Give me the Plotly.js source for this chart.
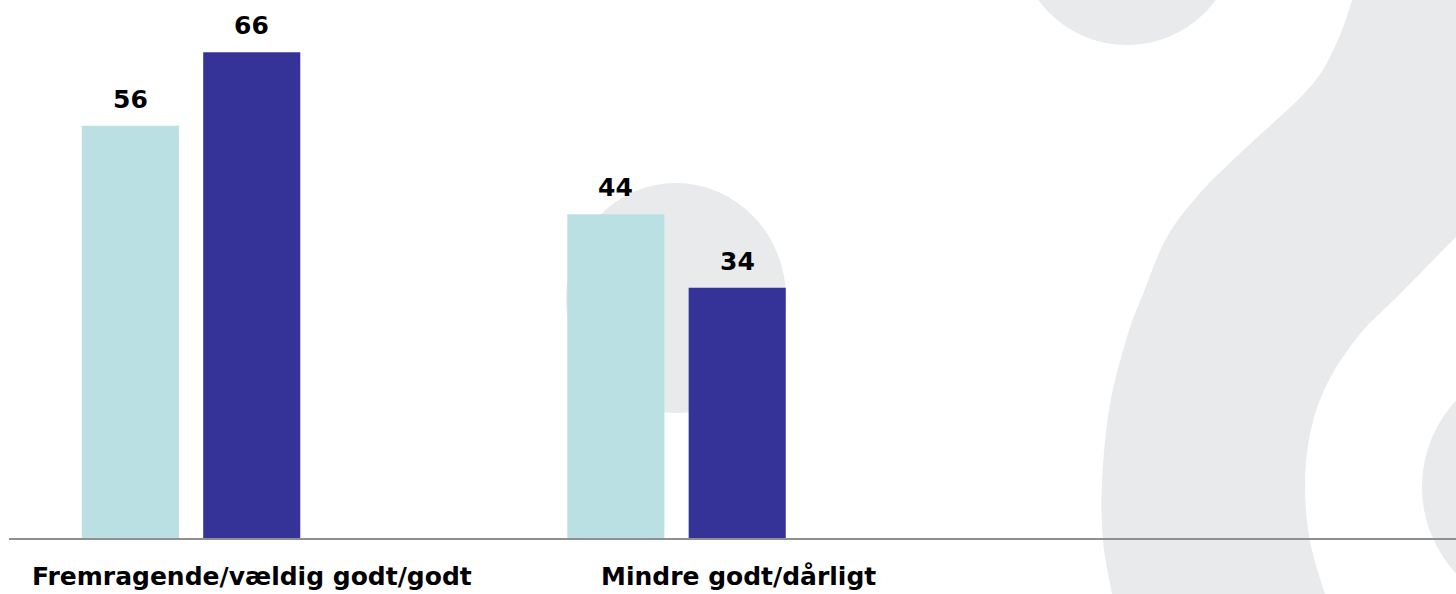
<!DOCTYPE html>
<html>
<head>
<meta charset="utf-8">
<script src="https://cdn.plot.ly/plotly-3.0.1.min.js"></script>
<style>
  html, body { margin: 0; padding: 0; background: #ffffff; }
  #chart { width: 1456px; height: 594px; }
</style>
</head>
<body>
<div id="chart"></div>
<script>
// ---- data ----
const categories = ["Fremragende/vældig godt/godt", "Mindre godt/dårligt"];
const seriesA = [56, 44];   // light teal
const seriesB = [66, 34];   // dark blue
const seriesNames = ["A", "B"];

// ---- layout constants ----
const W = 1456, H = 594;
const M = { l: 9, r: 0, t: 0, b: 56 };
const plotW = W - M.l - M.r, plotH = H - M.t - M.b;
const xRange = [-0.375, 2.6056];
const yRange = [0, 73.1];
const bargap = 0.5;
const pxPerCat = plotW / (xRange[1] - xRange[0]);
const barOffset = (1 - bargap) * pxPerCat / 4;

const boldFont = { family: "'DejaVu Sans', sans-serif", size: 25, color: "#000000", weight: "bold" };

// pixel -> paper conversion for decorative background shapes
function px(x) { return (x - M.l) / plotW; }
function py(y) { return (H - M.b - y) / plotH; }
function P(pt) { return px(pt[0]).toFixed(5) + "," + py(pt[1]).toFixed(5); }
function smooth(pts) {
  let d = "";
  for (let i = 0; i < pts.length - 1; i++) {
    const p0 = pts[Math.max(0, i - 1)], p1 = pts[i], p2 = pts[i + 1], p3 = pts[Math.min(pts.length - 1, i + 2)];
    const c1 = [p1[0] + (p2[0] - p0[0]) / 6, p1[1] + (p2[1] - p0[1]) / 6];
    const c2 = [p2[0] - (p3[0] - p1[0]) / 6, p2[1] - (p3[1] - p1[1]) / 6];
    d += " C" + P(c1) + " " + P(c2) + " " + P(p2);
  }
  return d;
}
const rightEdge = [[1490,205],[1456,237],[1400,294],[1360,334],[1327,384],[1310,434],[1305,487],[1310,541],[1325,594],[1335,620]];
const leftEdge = [[1116,620],[1112,594],[1103,541],[1102,481],[1110,404],[1127,337],[1143,294],[1167,237],[1200,193],[1235,158],[1272,124],[1302,96],[1324,68],[1342,30],[1352,0],[1356,-20]];
const bandPath = "M" + P([1356,-20]) + " L" + P([1530,-20]) + " L" + P([1530,180]) + " L" + P(rightEdge[0]) +
  smooth(rightEdge) + " L" + P(leftEdge[0]) + smooth(leftEdge) + " Z";

const decoColor = "#E9EAEC";
function circ(cx, cy, rx, ry) {
  return { type: "circle", xref: "paper", yref: "paper", layer: "below",
    x0: px(cx - rx), x1: px(cx + rx), y0: py(cy + ry), y1: py(cy - ry),
    fillcolor: decoColor, line: { width: 0 } };
}
const shapes = [
  circ(676, 298, 110, 115),
  circ(1127, -65, 110, 110),
  circ(1549, 487, 127, 127),
  { type: "path", xref: "paper", yref: "paper", layer: "below", path: bandPath, fillcolor: decoColor, line: { width: 0 } }
];

const traces = [
  { type: "bar", name: seriesNames[0], x: categories, y: seriesA, marker: { color: "#BBE0E3" }, hoverinfo: "skip" },
  { type: "bar", name: seriesNames[1], x: categories, y: seriesB, marker: { color: "#353397" }, hoverinfo: "skip" }
];

const annotations = [];
[seriesA, seriesB].forEach((vals, si) => {
  vals.forEach((v, ci) => {
    annotations.push({
      x: categories[ci], y: v, xref: "x", yref: "y",
      text: String(v), showarrow: false,
      xanchor: "center", yanchor: "bottom",
      xshift: (si === 0 ? -1 : 1) * barOffset, yshift: 10,
      font: boldFont
    });
  });
});
const catShift = [-161, -77.5];
categories.forEach((c, ci) => {
  annotations.push({
    x: c, y: 0, xref: "x", yref: "paper",
    text: c, showarrow: false,
    xanchor: "left", yanchor: "top",
    xshift: catShift[ci], yshift: -22,
    font: boldFont
  });
});

const layout = {
  width: W, height: H,
  margin: M,
  paper_bgcolor: "#ffffff",
  plot_bgcolor: "rgba(0,0,0,0)",
  showlegend: false,
  barmode: "group",
  bargap: bargap,
  bargroupgap: 0.2,
  xaxis: {
    type: "category", range: xRange, showticklabels: false, ticks: "",
    showgrid: false, zeroline: false, showline: true, linecolor: "#8f8f8f", linewidth: 2, fixedrange: true
  },
  yaxis: {
    range: yRange, visible: false, showgrid: false, zeroline: false, fixedrange: true
  },
  shapes: shapes,
  annotations: annotations
};

Plotly.newPlot("chart", traces, layout, { displayModeBar: false, staticPlot: true });
</script>
</body>
</html>
